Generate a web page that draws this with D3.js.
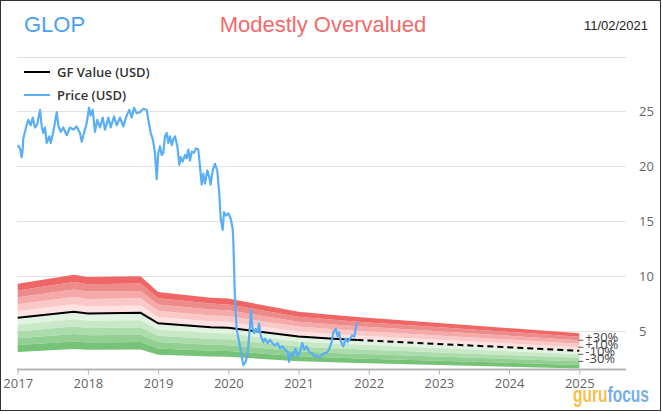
<!DOCTYPE html>
<html>
<head>
<meta charset="utf-8">
<script src="https://cdn.jsdelivr.net/npm/d3@7"></script>
<style>
  body { margin: 0; background: #fff; }
  svg text { font-family: "Open Sans", "DejaVu Sans", sans-serif; }
</style>
</head>
<body>
<div id="chart"></div>
<script>
// GF Value line (decimal years), last point is the projection
var gfT = [2017.0, 2017.8, 2018.0, 2018.75, 2019.0, 2019.75, 2020.0, 2021.0, 2021.5, 2021.84, 2025.0];
var gfV = [6.2, 6.75, 6.6, 6.65, 5.7, 5.35, 5.3, 4.5, 4.3, 4.18, 3.2];
var gfSplit = 2021.84;

// band steps around GF value
var bandSteps = [0.1, 0.2, 0.3, 0.4, 0.5];
var redCols = ["#fee2e2", "#fbc8c8", "#f5a9a9", "#ed8b8b", "#f06666"];
var greenCols = ["#e2f3e2", "#c8e8c8", "#acdbac", "#92cf92", "#76c276"];
var pctLabels = [0.3, 0.1, -0.1, -0.3];

var years = [2017, 2018, 2019, 2020, 2021, 2022, 2023, 2024, 2025];
var yTicks = [5, 10, 15, 20, 25];

var priceT = [2017.00, 2017.033, 2017.057, 2017.071, 2017.080, 2017.118, 2017.151, 2017.185, 2017.214, 2017.246,
  2017.279, 2017.318, 2017.342, 2017.365, 2017.389, 2017.413, 2017.450, 2017.470, 2017.507, 2017.556,
  2017.578, 2017.613, 2017.650, 2017.698, 2017.745, 2017.792, 2017.840, 2017.887, 2017.912, 2017.944,
  2017.983, 2018.016, 2018.040, 2018.068, 2018.101, 2018.134, 2018.172, 2018.211, 2018.244, 2018.291,
  2018.325, 2018.372, 2018.410, 2018.457, 2018.504, 2018.553, 2018.590, 2018.624, 2018.657, 2018.695,
  2018.742, 2018.789, 2018.838, 2018.860, 2018.895, 2018.925, 2018.956, 2018.980, 2019.003, 2019.027,
  2019.051, 2019.074, 2019.098, 2019.123, 2019.145, 2019.170, 2019.194, 2019.217, 2019.241, 2019.274,
  2019.302, 2019.322, 2019.350, 2019.383, 2019.407, 2019.430, 2019.454, 2019.479, 2019.511, 2019.540,
  2019.573, 2019.597, 2019.621, 2019.644, 2019.668, 2019.701, 2019.729, 2019.749, 2019.778, 2019.810,
  2019.843, 2019.872, 2019.892, 2019.920, 2019.939, 2019.967, 2020.000, 2020.034, 2020.063, 2020.071,
  2020.095, 2020.120, 2020.167, 2020.214, 2020.248, 2020.276, 2020.309, 2020.323, 2020.342, 2020.370,
  2020.390, 2020.419, 2020.437, 2020.466, 2020.499, 2020.523, 2020.561, 2020.594, 2020.627, 2020.665,
  2020.704, 2020.736, 2020.769, 2020.808, 2020.846, 2020.865, 2020.893, 2020.926, 2020.960, 2020.989,
  2021.021, 2021.054, 2021.083, 2021.117, 2021.150, 2021.188, 2021.225, 2021.259, 2021.292, 2021.330,
  2021.368, 2021.402, 2021.434, 2021.473, 2021.496, 2021.530, 2021.558, 2021.577, 2021.605, 2021.638,
  2021.672, 2021.701, 2021.733, 2021.766, 2021.795, 2021.815, 2021.830, 2021.840];
var priceV = [21.9, 21.6, 20.8, 21.5, 22.5, 23.5, 24.2, 23.7, 24.4, 23.5,
  23.8, 25.1, 23.6, 23.0, 23.5, 22.1, 22.7, 22.1, 23.1, 24.9,
  23.7, 23.1, 23.5, 22.8, 23.5, 23.3, 23.6, 23.0, 22.2, 23.0,
  23.9, 25.3, 24.6, 25.1, 23.1, 24.2, 23.5, 24.4, 23.3, 24.4,
  23.5, 24.5, 23.7, 24.4, 23.6, 24.6, 25.1, 24.4, 25.3, 24.8,
  24.9, 25.2, 25.1, 24.2, 23.0, 22.4, 21.2, 18.8, 21.2, 21.8,
  21.0, 21.2, 22.7, 23.0, 22.1, 22.7, 21.9, 22.4, 22.7, 21.8,
  20.1, 20.8, 20.4, 21.0, 20.7, 21.5, 20.5, 21.3, 21.2, 21.6,
  21.5, 19.9, 18.3, 19.3, 18.4, 19.6, 19.0, 18.3, 19.6, 20.2,
  19.6, 17.4, 15.2, 14.2, 15.8, 15.5, 15.7, 15.2, 14.3, 13.3,
  7.8, 5.1, 3.6, 1.9, 2.2, 3.0, 5.4, 6.9, 5.4, 4.8,
  5.2, 4.9, 5.7, 4.5, 4.0, 4.3, 3.9, 4.2, 3.9, 3.7,
  3.9, 3.4, 3.6, 3.3, 3.1, 2.2, 3.0, 2.8, 3.4, 2.7,
  3.1, 3.9, 3.3, 3.6, 3.1, 3.0, 2.7, 2.8, 2.6, 2.8,
  3.0, 3.0, 3.3, 4.0, 4.9, 5.2, 4.5, 4.9, 4.0, 3.6,
  4.3, 4.0, 4.3, 4.6, 4.5, 5.2, 5.5, 5.8];

var W = 662, H = 414;
var svg = d3.select("#chart").append("svg").attr("width", W).attr("height", H);

// frame
svg.append("rect").attr("x", 0.5).attr("y", 0.5).attr("width", 660).attr("height", 410)
  .attr("fill", "#fff").attr("stroke", "#333");

var x = d3.scaleLinear().domain([2017, 2025]).range([17.7, 579.3]);
var y = d3.scaleLinear().domain([0, 25]).range([386, 111]);
var plotL = 17, plotR = 626, axisY = 369.5;

// header
svg.append("text").attr("x", 24).attr("y", 32).attr("fill", "#4a9ff5")
  .style("font-family", "'Liberation Sans', Arial, sans-serif").style("font-size", "22px").text("GLOP");
svg.append("text").attr("x", 323).attr("y", 32).attr("text-anchor", "middle").attr("fill", "#f26a6a")
  .style("font-family", "'Liberation Sans', Arial, sans-serif").style("font-size", "22px").text("Modestly Overvalued");
svg.append("text").attr("x", 648).attr("y", 30).attr("text-anchor", "end").attr("fill", "#222")
  .style("font-family", "'Liberation Sans', Arial, sans-serif").style("font-size", "13px").text("11/02/2021");
svg.append("line").attr("x1", plotL).attr("x2", plotR).attr("y1", 57.5).attr("y2", 57.5)
  .attr("stroke", "#ddd");

// y grid + labels
var yAxis = svg.append("g").attr("transform", "translate(" + plotR + ",0)")
  .call(d3.axisRight(y).tickValues(yTicks).tickSize(-(plotR - plotL)).tickPadding(13));
yAxis.select(".domain").remove();
yAxis.selectAll(".tick line").attr("stroke", "#e3e3e3");
yAxis.selectAll(".tick text").attr("fill", "#666").style("font-size", "13px");

// bands
var gfPts = gfT.map(function (t, i) { return { t: t, v: gfV[i] }; });
bandSteps.forEach(function (s, i) {
  var lo = i === 0 ? 0 : bandSteps[i - 1];
  var up = d3.area().x(function (d) { return x(d.t); })
    .y0(function (d) { return y(d.v * (1 + lo)); })
    .y1(function (d) { return y(d.v * (1 + s)); });
  svg.append("path").datum(gfPts).attr("d", up).attr("fill", redCols[i]);
  var dn = d3.area().x(function (d) { return x(d.t); })
    .y0(function (d) { return y(d.v * (1 - lo)); })
    .y1(function (d) { return y(d.v * (1 - s)); });
  svg.append("path").datum(gfPts).attr("d", dn).attr("fill", greenCols[i]);
});

// GF value line
var gfLine = d3.line().x(function (d) { return x(d.t); }).y(function (d) { return y(d.v); });
svg.append("path").datum(gfPts.filter(function (d) { return d.t <= gfSplit; }))
  .attr("d", gfLine).attr("fill", "none").attr("stroke", "#000").attr("stroke-width", 2);
svg.append("path").datum(gfPts.filter(function (d) { return d.t >= gfSplit; }))
  .attr("d", gfLine).attr("fill", "none").attr("stroke", "#000").attr("stroke-width", 2)
  .attr("stroke-dasharray", "6,4");

// percent labels at the end
var last = gfPts[gfPts.length - 1];
pctLabels.forEach(function (p) {
  var yy = y(last.v * (1 + p)) - 2;
  svg.append("line").attr("x1", x(2025) - 1).attr("x2", x(2025) + 4).attr("y1", yy + 2).attr("y2", yy + 2)
    .attr("stroke", "#555");
  svg.append("text").attr("x", x(2025) + 6).attr("y", yy + 4).attr("fill", "#444")
    .style("font-size", "13px").text((p > 0 ? "+" : "-") + Math.round(Math.abs(p) * 100) + "%");
});

// price
var pricePts = priceT.map(function (t, i) { return { t: t, v: priceV[i] }; });
svg.append("path").datum(pricePts).attr("d", gfLine).attr("fill", "none")
  .attr("stroke", "#5aaef5").attr("stroke-width", 2.2).attr("stroke-linejoin", "round");

// x axis
var xAxis = svg.append("g").attr("transform", "translate(0," + axisY + ")")
  .call(d3.axisBottom(x).tickValues(years).tickFormat(d3.format("d")).tickSize(5).tickPadding(4));
xAxis.select(".domain").remove();
xAxis.append("line").attr("x1", plotL).attr("x2", plotR).attr("stroke", "#b5b5b5").attr("stroke-width", 2);
xAxis.selectAll(".tick line").attr("stroke", "#b5b5b5");
xAxis.selectAll(".tick text").attr("fill", "#666").style("font-size", "13px");

// legend
var legend = [{ name: "GF Value (USD)", color: "#000", y: 72 }, { name: "Price (USD)", color: "#5aaef5", y: 95 }];
legend.forEach(function (l) {
  svg.append("line").attr("x1", 24).attr("x2", 50).attr("y1", l.y).attr("y2", l.y)
    .attr("stroke", l.color).attr("stroke-width", 2);
  svg.append("text").attr("x", 57).attr("y", l.y + 5).attr("fill", "#333")
    .style("font-size", "13px").style("font-weight", "600").text(l.name);
});

// logo
var logo = svg.append("text").attr("x", 573).attr("y", 402)
  .attr("textLength", 76).attr("lengthAdjust", "spacingAndGlyphs")
  .style("font-family", "'Liberation Sans', Arial, sans-serif").style("font-size", "22px")
  .style("font-weight", "bold")
  .attr("stroke", "#fff").attr("stroke-width", 1).attr("paint-order", "stroke");
logo.append("tspan").attr("fill", "#f5c04a").text("guru");
logo.append("tspan").attr("fill", "#78aee6").text("focus");
</script>
</body>
</html>
